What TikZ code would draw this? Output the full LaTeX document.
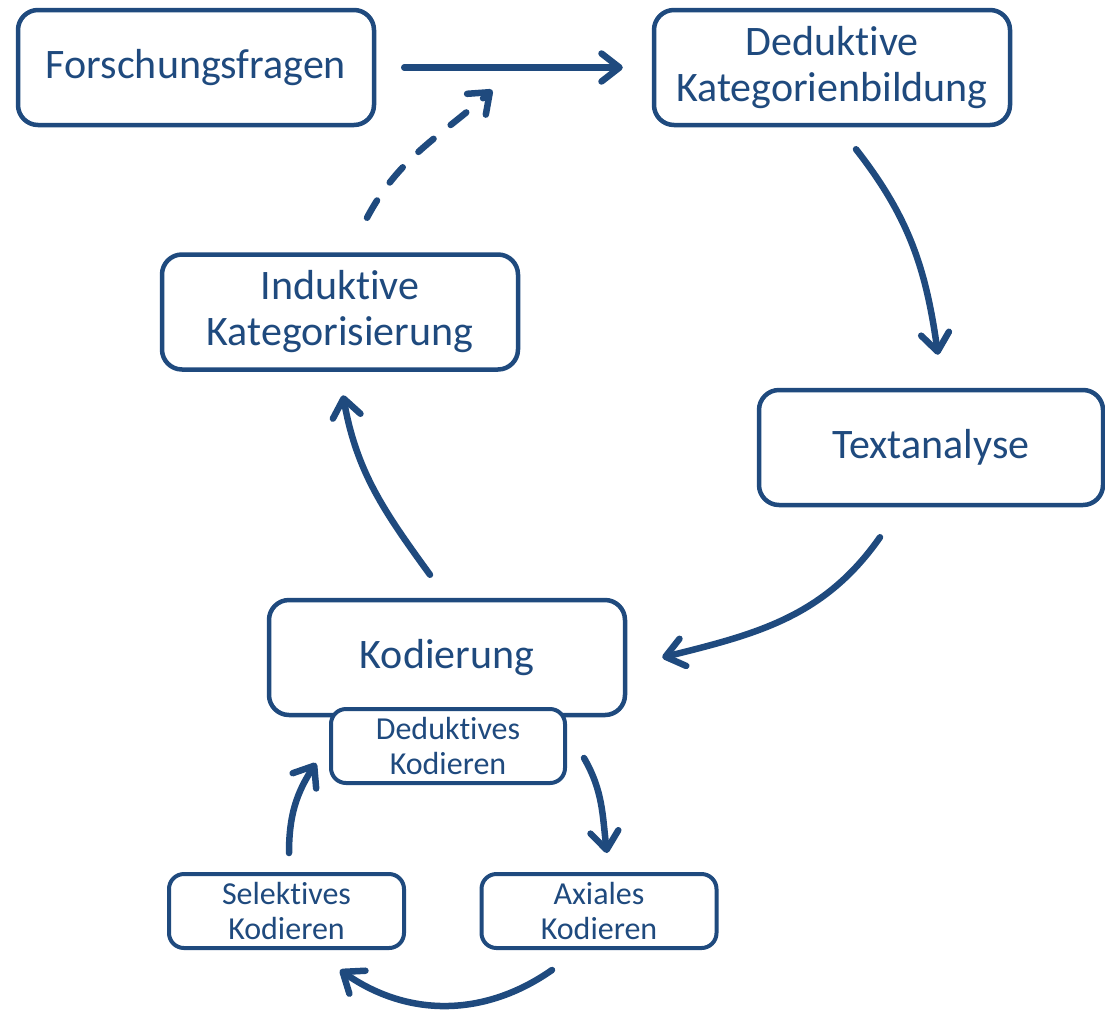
\documentclass[tikz,border=0pt]{standalone}
\usepackage{fontspec}
\setmainfont{Carlito}[Ligatures=NoCommon]
\usepackage{tikz}
\usetikzlibrary{arrows.meta,calc}
\definecolor{navy}{HTML}{1F4A7E}

\begin{document}
\begin{tikzpicture}[x=1pt,y=1pt,
    every node/.style={text=navy},
    big/.style={draw=navy,line width=4.5pt,rounded corners=20pt,fill=white,inner sep=0pt,align=center,
      minimum width=356pt,minimum height=115pt,font=\fontsize{42}{46}\selectfont},
    small/.style={draw=navy,line width=4pt,rounded corners=15pt,fill=white,inner sep=0pt,align=center,
      minimum width=235pt,minimum height=74pt,font=\fontsize{32}{35}\selectfont},
    flow/.style={draw=navy,line width=6.5pt,line cap=round,-{Straight Barb[length=18pt,width=28pt,round]}}]
    \useasboundingbox (0,0) rectangle (1105,-1010);
    \node[big] (ff) at (196,-67.5) {Forschungsfragen};
    \node[big] (dk) at (832,-67.5) {Deduktive\\Kategorienbildung};
    \node[big,minimum width=344pt] (ta) at (931,-447.5) {Textanalyse};
    \node[big] (ko) at (447,-657.5) {Kodierung};
    \node[big] (ik) at (340,-312) {Induktive\\Kategorisierung};
    \node[small,minimum width=234pt] (dko) at (448,-746) {Deduktives\\Kodieren};
    \node[small] (sko) at (286.5,-911) {Selektives\\Kodieren};
    \node[small] (ako) at (599,-911) {Axiales\\Kodieren};
    % main cycle
    \draw[flow] ($(ff.east)+(28,0)$) -- ($(dk.west)+(-29,0)$);
    \draw[flow] ($(dk.south)+(24,-22)$) to[out=-52,in=98] ($(ta.north)+(7,33)$);
    \draw[flow] ($(ta.south)+(-51,-30)$) to[out=-125,in=14] ($(ko.east)+(35,0)$);
    \draw[flow] ($(ko.north)+(-17,23)$) to[out=126,in=-80] ($(ik.south)+(3,-23.5)$);
    \draw[flow,dash pattern=on 20pt off 22pt] ($(ik.north)+(27,34.5)$) to[out=62,in=-138] ($(ff.east)+(116,-22.5)$);
    % coding cycle
    \draw[flow] ($(dko.east)+(17,-12)$) to[out=-60,in=97] ($(ako.north)+(8,19)$);
    \draw[flow] ($(ako.south)+(-47,-20)$) to[out=-145,in=-35] ($(sko.south)+(53.5,-20)$);
    \draw[flow] ($(sko.north)+(2.5,19)$) to[out=90,in=-123] ($(dko.west)+(-13,-17)$);
  \end{tikzpicture}
\end{document}
